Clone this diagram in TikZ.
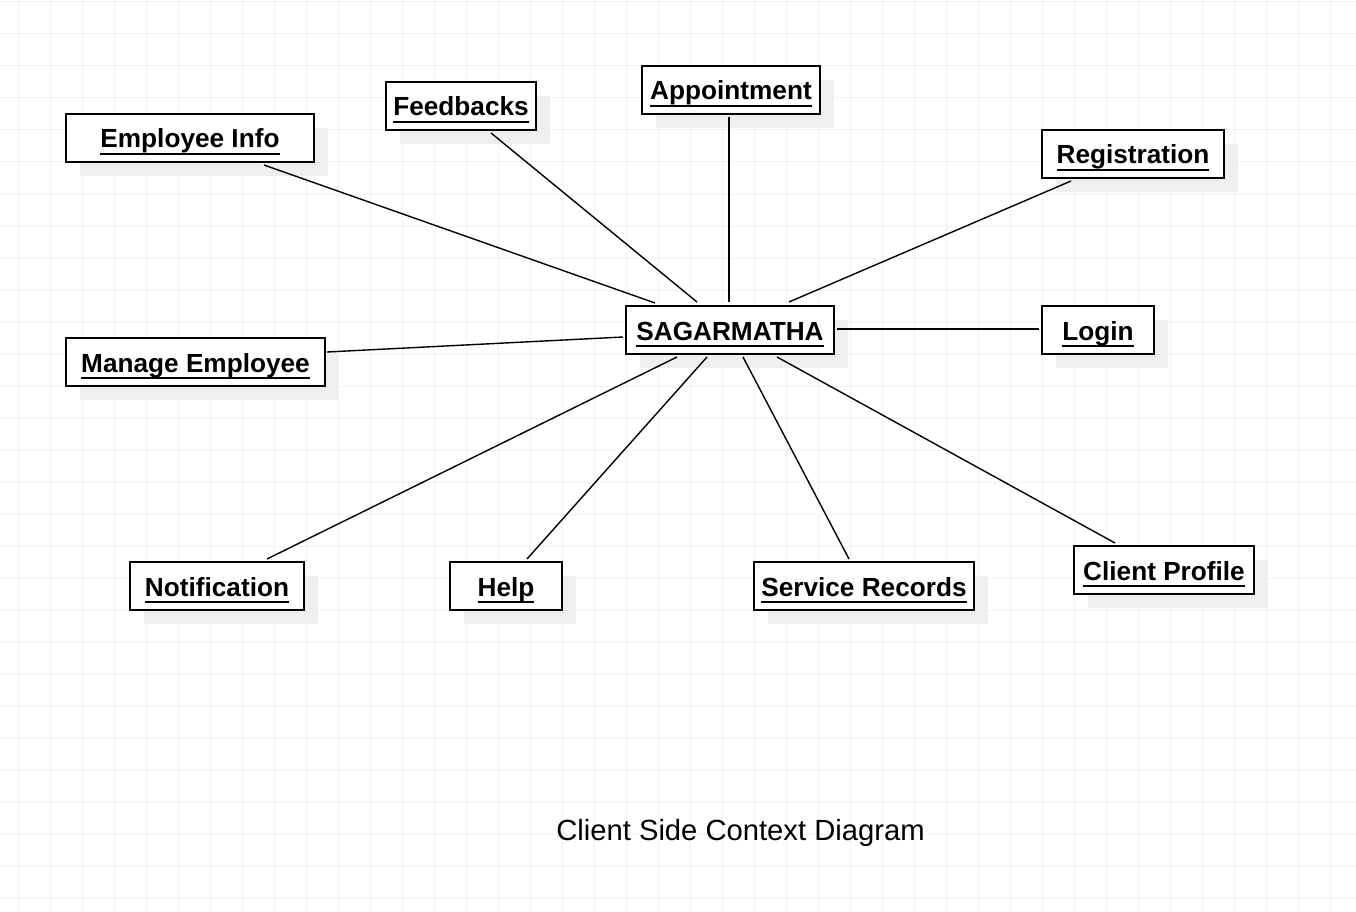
\documentclass[tikz,border=0pt]{standalone}
\usepackage{fontspec}
\setmainfont{Liberation Sans}
\usetikzlibrary{calc,shadows}
\definecolor{gridgray}{HTML}{F2F2F2}
\definecolor{shadowgray}{HTML}{EFEFEF}
\newcommand\myul[1]{\setbox0\hbox{#1}\rlap{\rule[-7pt]{\wd0}{2pt}}\box0}
\tikzset{
  entity/.style={draw=black, line width=2pt, fill=white, minimum height=48pt,
    inner sep=0pt, text height=20pt, text depth=0pt,
    font=\bfseries\fontsize{26.2}{30}\selectfont,
    drop shadow={shadow xshift=14pt, shadow yshift=-14pt, opacity=1, fill=shadowgray}},
  link/.style={line width=1.4pt, black},
}
\begin{document}
\begin{tikzpicture}[x=1pt,y=-1pt]
\useasboundingbox (0,0) rectangle (1356,912);
\fill[white] (0,0) rectangle (1356,912);
% grid
\foreach \gx in {18,50,...,1356} \draw[gridgray, line width=1pt] (\gx,0) -- (\gx,912);
\foreach \gy in {2,34,...,912} \draw[gridgray, line width=1pt] (0,\gy) -- (1356,\gy);

% nodes
\node[entity, minimum width=208pt] (sag) at (730,330) {\myul{SAGARMATHA}};
\node[entity, minimum width=248pt] (emp) at (190,138) {\myul{Employee Info}};
\node[entity, minimum width=150pt] (feed) at (461,106) {\myul{Feedbacks}};
\node[entity, minimum width=178pt] (appt) at (731,90) {\myul{Appointment}};
\node[entity, minimum width=182pt] (reg) at (1133,154) {\myul{Registration}};
\node[entity, minimum width=112pt] (login) at (1098,330) {\myul{Login}};
\node[entity, minimum width=259pt] (mng) at (195.5,362) {\myul{Manage Employee}};
\node[entity, minimum width=174pt] (noti) at (217,586) {\myul{Notification}};
\node[entity, minimum width=112pt] (help) at (506,586) {\myul{Help}};
\node[entity, minimum width=220pt] (serv) at (864,586) {\myul{Service Records}};
\node[entity, minimum width=180pt] (cli) at (1164,570) {\myul{Client Profile}};

% connectors
\draw[link] ($(emp.south west)+(199,2)$) -- ($(sag.north west)+(30,-2)$);
\draw[link] ($(feed.south west)+(106,2)$) -- ($(sag.north west)+(72,-3)$);
\draw[link] ($(appt.south west)+(88,2)$) -- ($(sag.north west)+(104,-3)$);
\draw[link] ($(reg.south west)+(30,2)$) -- ($(sag.north west)+(164,-3)$);
\draw[link] ($(sag.east)+(2,-1)$) -- ($(login.west)+(-2,-1)$);
\draw[link] ($(mng.north east)+(1,15)$) -- ($(sag.south west)+(-2,-18)$);
\draw[link] ($(noti.north west)+(138,-2)$) -- ($(sag.south west)+(52,2)$);
\draw[link] ($(help.north west)+(78,-2)$) -- ($(sag.south west)+(82,2)$);
\draw[link] ($(serv.north west)+(96,-2)$) -- ($(sag.south west)+(118,2)$);
\draw[link] ($(cli.north west)+(42,-2)$) -- ($(sag.south west)+(152,2)$);

% caption
\node[anchor=base, font=\fontsize{29.2}{34}\selectfont, inner sep=0pt] (cap) at (740.5,840) {Client Side Context Diagram};
\end{tikzpicture}
\end{document}
